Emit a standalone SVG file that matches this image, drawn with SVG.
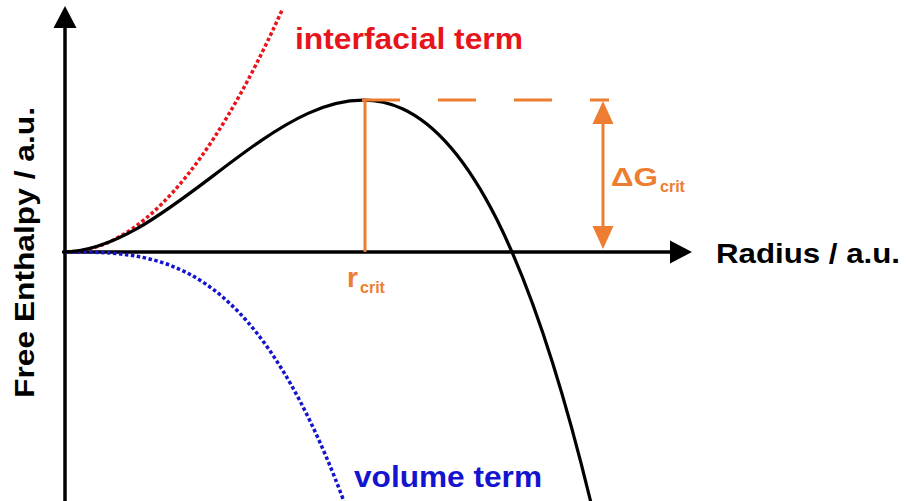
<svg xmlns="http://www.w3.org/2000/svg" width="906" height="501" viewBox="0 0 906 501">
<defs>
<style>
.lbl{font-family:"Liberation Sans",Arial,sans-serif;font-weight:bold}
.ax{stroke:#000;stroke-width:3.5;fill:none}
.or{stroke:#ed7d31;stroke-width:3;fill:none}
.dot{fill:none;stroke-width:3.5;stroke-dasharray:3.5 2.5}
</style>
</defs>
<rect width="906" height="501" fill="#fff"/>
<g id="connectors">
<path class="ax" d="M65,501 V24"/>
<polygon points="65,6 53.5,28 76.5,28" fill="#000"/>
<path class="ax" d="M65,252 H672"/>
<polygon points="692,252 670,240.5 670,263.5" fill="#000"/>
<path class="dot" d="M65,252 C137.4,252 209.8,171.2 282.2,9.7" stroke="#e8141c"/>
<path class="dot" d="M65,252 C158,252 251,252 343.9,501.3" stroke="#1414d0"/>
<path d="M62,252 C240.2,252 415.4,-221 590.7,501.7" fill="none" stroke="#000" stroke-width="3.2"/>
<path class="or" d="M365,100 V252"/>
<path class="or" d="M362,100 H609" stroke-dasharray="38 38"/>
<path class="or" d="M603,120 V231"/>
<polygon points="603,101 592.5,124 613.5,124" fill="#ed7d31"/>
<polygon points="603,249 592.5,226 613.5,226" fill="#ed7d31"/>
</g>
<g id="interfacial">
<text class="lbl" x="295" y="49" font-size="29" fill="#e8141c" textLength="228" lengthAdjust="spacingAndGlyphs">interfacial term</text>
</g>
<g id="volume">
<text class="lbl" x="354" y="487" font-size="29" fill="#1414d0" textLength="188" lengthAdjust="spacingAndGlyphs">volume term</text>
</g>
<g id="xlabel">
<text class="lbl" x="716" y="263" font-size="28" fill="#000" textLength="184" lengthAdjust="spacingAndGlyphs">Radius / a.u.</text>
</g>
<g id="ylabel">
<text class="lbl" transform="translate(34,398) rotate(-90)" x="0" y="0" font-size="28" fill="#000" textLength="291" lengthAdjust="spacingAndGlyphs">Free Enthalpy / a.u.</text>
</g>
<g id="rcrit">
<text class="lbl" x="347" y="287" font-size="28" fill="#ed7d31">r</text>
<text class="lbl" x="360" y="293" font-size="16" fill="#ed7d31">crit</text>
</g>
<g id="dGcrit">
<text class="lbl" x="611" y="186" font-size="26" fill="#ed7d31" textLength="47" lengthAdjust="spacingAndGlyphs">ΔG</text>
<text class="lbl" x="660" y="192" font-size="16" fill="#ed7d31">crit</text>
</g>
</svg>
